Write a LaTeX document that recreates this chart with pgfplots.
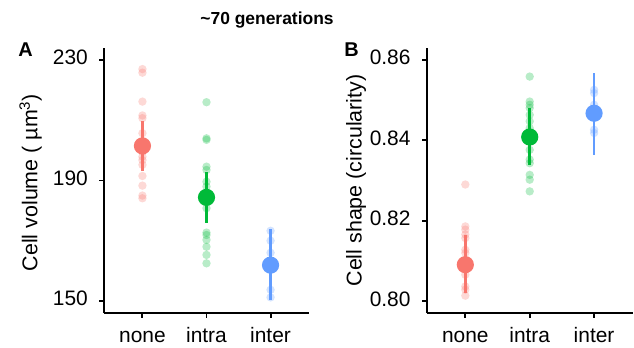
\documentclass[border=0pt]{standalone}
\usepackage{pgfplots}
\pgfplotsset{compat=1.18}
\usepackage{fontspec}
\setmainfont{Liberation Sans}
\definecolor{cA}{HTML}{F8766D}
\definecolor{cB}{HTML}{00BA38}
\definecolor{cC}{HTML}{619CFF}
\pgfplotsset{
  panel/.style={
    scale only axis, height=265bp, anchor=south west,
    axis x line=bottom, axis y line=left,
    axis line style={line width=1.9bp, -, black},
    tick align=outside, major tick length=4.5bp,
    tick style={line width=1.9bp, black},
    xmin=0.4, xmax=3.6, xtick={1,2,3}, xticklabels={none,intra,inter},
    typeset ticklabels with strut,
    tick label style={font=\fontsize{21}{24}\selectfont, black},
    xticklabel style={inner sep=0pt, yshift=-7.7bp},
    yticklabel style={inner sep=0pt, xshift=-11.5bp},
    /pgf/number format/assume math mode=true,
    clip=false,
  },
  pts/.style={only marks, color=#1, mark=*, mark size=4.2bp, mark options={draw opacity=0, fill=#1, fill opacity=0.28}},
  bar/.style={#1, line width=2.7bp, no marks},
  mn/.style={only marks, color=#1, mark=*, mark size=8.6bp, mark options={draw opacity=0, fill=#1}},
}
\begin{document}
\begin{tikzpicture}
\path[use as bounding box] (0,0) rectangle (634bp,348bp);
\node[anchor=base, font=\fontsize{17.5}{21}\selectfont\bfseries] at (267bp,323bp) {\textasciitilde70 generations};
\node[anchor=base, font=\fontsize{20}{24}\selectfont\bfseries] at (25.5bp,291bp) {A};
\node[anchor=base, font=\fontsize{20}{24}\selectfont\bfseries] at (351.5bp,291bp) {B};
\begin{axis}[panel, at={(104bp,35bp)}, width=205bp,
  ymin=146, ymax=234, ytick={150,190,230},
  every axis y label/.style={at={(axis description cs:-0.325,0.492)}, anchor=base, rotate=90, font=\fontsize{21.5}{26}\selectfont},
  ylabel={Cell volume ( µm\textsuperscript{3})}]
\addplot[pts=cA] coordinates {(1,227) (1,225.8) (1,216.2) (1,211.6) (1,210.7) (1,205.7) (1,202) (1,199.5) (1,197.9) (1,196.8) (1,195.2) (1,191.5) (1,188.3) (1,185) (1,184.1)};
\addplot[pts=cB] coordinates {(2,216) (2,204) (2,203.5) (2,194.6) (2,193.5) (2,189.6) (2,188) (2,180.8) (2,172.7) (2,171.9) (2,170.3) (2,168) (2,165.3) (2,162.5)};
\addplot[pts=cC] coordinates {(3,173.3) (3,170) (3,166) (3,153.7) (3,151.2)};
\addplot[bar=cA] coordinates {(1,193) (1,209.8)};
\addplot[bar=cB] coordinates {(2,176) (2,192.7)};
\addplot[bar=cC] coordinates {(3,150.3) (3,173.8)};
\addplot[mn=cA] coordinates {(1,201.5)};
\addplot[mn=cB] coordinates {(2,184.4)};
\addplot[mn=cC] coordinates {(3,161.9)};
\end{axis}
\begin{axis}[panel, at={(426.7bp,35bp)}, width=206bp,
  ymin=0.7971, ymax=0.8629, ytick={0.80,0.82,0.84,0.86}, yticklabels={0.80,0.82,0.84,0.86},
  every axis y label/.style={at={(axis description cs:-0.3165,0.5)}, anchor=base, rotate=90, font=\fontsize{21.5}{26}\selectfont},
  ylabel={Cell shape (circularity)}]
\addplot[pts=cA] coordinates {(1,0.8290) (1,0.8186) (1,0.8178) (1,0.8166) (1,0.8157) (1,0.8128) (1,0.8120) (1,0.8066) (1,0.8037) (1,0.8029) (1,0.8014)};
\addplot[pts=cB] coordinates {(2,0.8558) (2,0.8496) (2,0.8488) (2,0.8480) (2,0.8463) (2,0.8447) (2,0.8430) (2,0.8376) (2,0.8352) (2,0.8343) (2,0.8314) (2,0.8302) (2,0.8273)};
\addplot[pts=cC] coordinates {(3,0.8525) (3,0.8517) (3,0.8488) (3,0.8426) (3,0.8418)};
\addplot[bar=cA] coordinates {(1,0.8021) (1,0.8164)};
\addplot[bar=cB] coordinates {(2,0.8339) (2,0.8480)};
\addplot[bar=cC] coordinates {(3,0.8364) (3,0.8567)};
\addplot[mn=cA] coordinates {(1,0.8091)};
\addplot[mn=cB] coordinates {(2,0.8408)};
\addplot[mn=cC] coordinates {(3,0.8467)};
\end{axis}
\end{tikzpicture}
\end{document}
